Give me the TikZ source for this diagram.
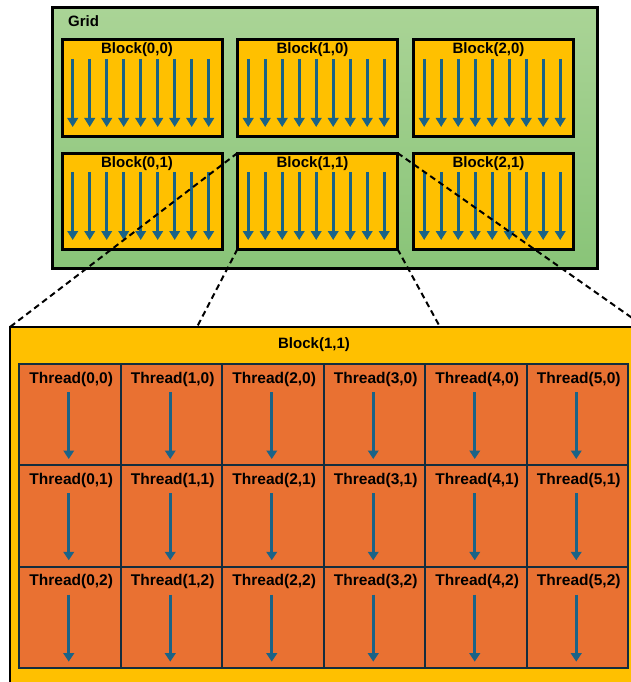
\documentclass[tikz,border=0pt]{standalone}
\usepackage{fontspec}
\setmainfont{Liberation Sans}
\usetikzlibrary{arrows.meta}
\definecolor{gridtop}{RGB}{170,212,150}
\definecolor{gridbot}{RGB}{137,196,120}
\definecolor{blockyel}{RGB}{255,192,0}
\definecolor{threador}{RGB}{233,113,50}
\definecolor{arrowblue}{RGB}{26,99,135}
\definecolor{celledge}{RGB}{20,45,62}
\begin{document}
\begin{tikzpicture}[x=1pt,y=-1pt,
  gridbox/.style={draw=black,line width=3pt,top color=gridtop,bottom color=gridbot,
    inner sep=0pt,outer sep=0pt,minimum width=545pt,minimum height=260pt},
  blockbox/.style={draw=black,line width=3pt,fill=blockyel,inner sep=0pt,outer sep=0pt,
    minimum width=160pt,minimum height=96pt},
  bigbox/.style={draw=black,line width=2.5pt,fill=blockyel,inner sep=0pt,outer sep=0pt,
    minimum width=635pt,minimum height=373pt},
  cellbox/.style={draw=celledge,line width=2pt,fill=threador,inner sep=0pt,outer sep=0pt,
    minimum width=101.5pt,minimum height=101.33pt},
  lbl/.style={font=\bfseries\fontsize{15}{18}\selectfont,inner sep=0pt},
  tlbl/.style={font=\bfseries\fontsize{15.5}{18}\selectfont,inner sep=0pt,anchor=base},
  barrow/.style={draw=arrowblue,line width=3.2pt,-{Triangle[width=10.5pt,length=9pt]}},
  tarrow/.style={draw=arrowblue,line width=3.2pt,-{Triangle[width=10.5pt,length=8.5pt]}},
  dashline/.style={draw=black,line width=2pt,dash pattern=on 6pt off 4pt}]
\useasboundingbox (0,0) rectangle (631,682);
\clip (0,0) rectangle (631,682);

% Grid
\node[gridbox] (grid) at (324.5,138) {};
\node[lbl,anchor=base west] (gridlbl) at (68,27) {Grid};

% Blocks
\foreach \i/\cx in {0/142,1/317.5,2/493.5}{
  \foreach \j/\cy in {0/88,1/201}{
    \node[blockbox] (b\i\j) at (\cx,\cy) {};
    \node[lbl,anchor=base] (bl\i\j) at ([shift={(-5,14)}]b\i\j.north) {Block(\i,\j)};
    \foreach \k in {0,...,8}{
      \draw[barrow] ([shift={(10.7+17*\k,19)}]b\i\j.north west) -- ([shift={(10.7+17*\k,87)}]b\i\j.north west);
    }
  }
}

% Big block
\node[bigbox] (big) at (327.5,513.5) {};
\node[lbl,anchor=base] (biglbl) at (314,348) {Block(1,1)};

% Threads
\foreach \i in {0,...,5}{
  \foreach \j in {0,1,2}{
    \node[cellbox] (t\i\j) at ({19+101.5*\i+50.75},{364+101.33*\j+50.67}) {};
    \node[tlbl] (tl\i\j) at ([shift={(1.5,19)}]t\i\j.north) {Thread(\i,\j)};
    \draw[tarrow] ([shift={(-1,28)}]t\i\j.north) -- ([shift={(-1,95)}]t\i\j.north);
  }
}

% Zoom lines
\coordinate (c2) at (197,327);
\coordinate (c3) at (440,327);
\draw[dashline] (b11.north west) -- (big.north west);
\draw[dashline] (b11.south west) -- (c2);
\draw[dashline] (b11.south east) -- (c3);
\draw[dashline] (b11.north east) -- (big.north east);
\end{tikzpicture}
\end{document}
